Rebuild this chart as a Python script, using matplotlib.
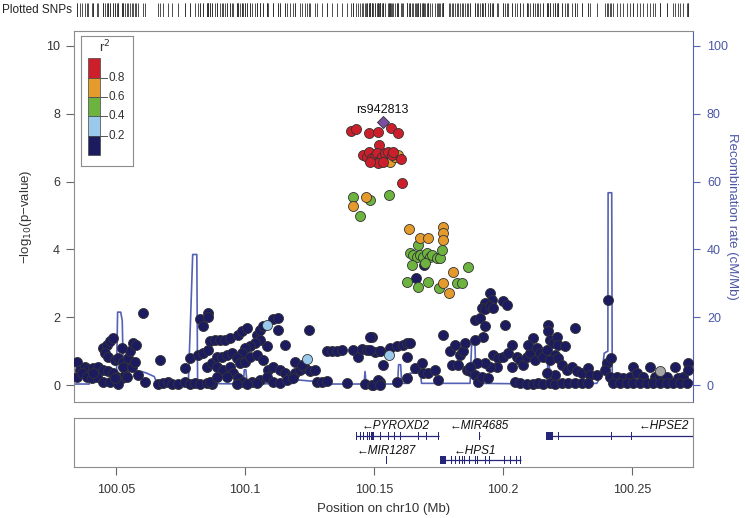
import matplotlib
matplotlib.use('Agg')
import matplotlib.pyplot as plt
from matplotlib.patches import Rectangle

plt.rcParams['font.family'] = ['Liberation Sans', 'DejaVu Sans']

# SNPs per LD bin: (position in Mb, -log10 p)
navy_snps = [
    (100.0347, 0.69), (100.0360, 0.45), (100.0380, 0.54), (100.0393, 0.46), (100.0412, 0.49), (100.0431, 0.52),
    (100.0451, 0.45), (100.0470, 0.40), (100.0489, 0.35), (100.0502, 0.25), (100.0522, 0.20), (100.0535, 0.30),
    (100.0347, 0.25), (100.0367, 0.35), (100.0386, 0.25), (100.0406, 0.20), (100.0425, 0.25), (100.0451, 1.09),
    (100.0464, 1.19), (100.0477, 1.29), (100.0487, 1.38), (100.0457, 0.94), (100.0470, 0.84), (100.0496, 0.74),
    (100.0509, 0.79), (100.0528, 0.69), (100.0548, 0.79), (100.0554, 0.99), (100.0567, 1.24), (100.0577, 1.19),
    (100.0522, 1.09), (100.0528, 0.54), (100.0561, 0.54), (100.0573, 0.69), (100.0586, 0.30), (100.0612, 0.10),
    (100.0606, 2.11), (100.0451, 0.10), (100.0477, 0.10), (100.0509, 0.03), (100.0541, 0.25), (100.0496, 0.20),
    (100.0412, 0.35), (100.0670, 0.74), (100.0664, 0.03), (100.0683, 0.05), (100.0703, 0.10), (100.0716, 0.03),
    (100.0741, 0.03), (100.0767, 0.10), (100.0787, 0.03), (100.0806, 0.07), (100.0825, 0.03), (100.0851, 0.07),
    (100.0871, 0.03), (100.0767, 0.49), (100.0787, 0.79), (100.0819, 0.89), (100.0838, 0.94), (100.0858, 1.04),
    (100.0825, 1.95), (100.0836, 1.75), (100.0858, 2.13), (100.0858, 2.01), (100.0864, 1.29), (100.0884, 1.34),
    (100.0903, 1.34), (100.0922, 1.34), (100.0942, 1.38), (100.0974, 1.48), (100.0987, 1.58), (100.1006, 1.68),
    (100.1045, 1.48), (100.1058, 1.63), (100.1071, 1.73), (100.1110, 1.95), (100.1129, 1.98), (100.1129, 1.63),
    (100.1155, 1.19), (100.1084, 1.14), (100.1058, 1.34), (100.1039, 1.24), (100.1019, 1.14), (100.1000, 1.09),
    (100.0987, 0.94), (100.0851, 0.54), (100.0871, 0.64), (100.0890, 0.84), (100.0909, 0.84), (100.0929, 0.89),
    (100.0948, 0.94), (100.0968, 0.79), (100.0980, 0.64), (100.1000, 0.69), (100.1019, 0.84), (100.1045, 0.89),
    (100.1071, 0.74), (100.1090, 0.45), (100.1110, 0.54), (100.1135, 0.45), (100.1155, 0.35), (100.1174, 0.25),
    (100.1193, 0.35), (100.1213, 0.45), (100.1232, 0.49), (100.1252, 0.40), (100.1271, 0.45), (100.0890, 0.54),
    (100.0916, 0.45), (100.0942, 0.54), (100.0955, 0.35), (100.0974, 0.20), (100.0993, 0.10), (100.1026, 0.10),
    (100.1058, 0.15), (100.1084, 0.25), (100.1110, 0.10), (100.1135, 0.05), (100.1161, 0.15), (100.1187, 0.20),
    (100.0864, 0.10), (100.0890, 0.25), (100.0929, 0.25), (100.0968, 0.03), (100.1006, 0.03), (100.1045, 0.05),
    (100.1249, 1.63), (100.1278, 0.10), (100.1297, 0.10), (100.1316, 0.13), (100.1394, 0.05), (100.1465, 0.03),
    (100.1491, 0.00), (100.1523, 0.10), (100.1316, 0.99), (100.1336, 0.99), (100.1355, 0.99), (100.1374, 1.02),
    (100.1420, 1.02), (100.1439, 0.84), (100.1452, 1.06), (100.1471, 1.04), (100.1491, 1.43), (100.1504, 0.96),
    (100.1523, 0.99), (100.1193, 0.69), (100.1219, 0.59),
    (100.1484, 1.43), (100.1497, 0.00), (100.1516, 0.15), (100.1523, 0.00), (100.1536, 0.59), (100.1562, 1.09),
    (100.1587, 1.14), (100.1613, 1.19), (100.1626, 1.24), (100.1639, 1.24), (100.1484, 1.02), (100.1523, 0.99),
    (100.1626, 0.84), (100.1587, 0.10), (100.1626, 0.20), (100.1658, 0.49), (100.1684, 0.64), (100.1691, 0.35),
    (100.1710, 0.35), (100.1736, 0.45), (100.1749, 0.15), (100.1768, 1.48), (100.1801, 0.59), (100.1794, 0.99),
    (100.1813, 1.19), (100.1833, 0.89), (100.1846, 0.99), (100.1852, 1.24), (100.1826, 0.59), (100.1859, 0.45),
    (100.1872, 0.40), (100.1891, 0.30), (100.1904, 0.10), (100.1917, 0.25), (100.1943, 0.20), (100.1949, 2.72),
    (100.1956, 2.52), (100.1930, 2.42), (100.1917, 2.27), (100.1930, 2.23), (100.1949, 2.32), (100.1962, 2.27),
    (100.2001, 2.47), (100.2014, 2.37), (100.1891, 1.93), (100.1910, 1.98), (100.1930, 1.73), (100.2007, 1.78),
    (100.1923, 1.43), (100.1891, 1.34), (100.1962, 0.89), (100.1981, 0.79), (100.2001, 0.84), (100.2020, 0.94),
    (100.2033, 1.19), (100.1975, 0.54), (100.1949, 0.54), (100.1930, 0.64), (100.1897, 0.64), (100.1872, 0.54),
    (100.2033, 0.54), (100.2052, 0.84), (100.2065, 0.74), (100.2078, 0.59), (100.2091, 0.84), (100.2104, 0.94),
    (100.2117, 1.38), (100.2098, 1.19), (100.2130, 1.09), (100.2124, 0.74), (100.2143, 0.94), (100.2156, 0.84),
    (100.2175, 1.78), (100.2175, 1.58), (100.2182, 1.34), (100.2195, 1.24), (100.2208, 1.43), (100.2214, 1.19),
    (100.2240, 1.14), (100.2279, 1.68), (100.2169, 1.04), (100.2201, 0.89), (100.2182, 0.74), (100.2214, 0.79),
    (100.2227, 0.59), (100.2246, 0.45), (100.2266, 0.54), (100.2285, 0.40), (100.2304, 0.35), (100.2330, 0.49),
    (100.2337, 0.30), (100.2363, 0.30), (100.2046, 0.10), (100.2065, 0.05), (100.2091, 0.03), (100.2117, 0.03),
    (100.2136, 0.05), (100.2156, 0.03), (100.2182, 0.05), (100.2201, 0.03), (100.2227, 0.05), (100.2253, 0.05),
    (100.2279, 0.05), (100.2304, 0.05), (100.2330, 0.05), (100.2201, 0.30), (100.2169, 0.35), (100.2408, 2.50),
    (100.2404, 0.64), (100.2417, 0.79), (100.2395, 0.45), (100.2414, 0.25), (100.2440, 0.25), (100.2466, 0.20),
    (100.2492, 0.25), (100.2505, 0.54), (100.2518, 0.35), (100.2543, 0.25), (100.2569, 0.54), (100.2589, 0.25),
    (100.2608, 0.25), (100.2634, 0.25), (100.2666, 0.54), (100.2679, 0.20), (100.2699, 0.25), (100.2718, 0.64),
    (100.2718, 0.45), (100.2427, 0.05), (100.2453, 0.05), (100.2479, 0.05), (100.2505, 0.05), (100.2531, 0.05),
    (100.2556, 0.05), (100.2582, 0.05), (100.2608, 0.05), (100.2634, 0.05), (100.2660, 0.05), (100.2686, 0.05),
    (100.2711, 0.05), (100.1693, 3.54), (100.1662, 3.15),
]
gray_snps = [(100.2608, 0.40)]
lightblue_snps = [(100.1084, 1.76), (100.1239, 0.77), (100.1558, 0.89)]
green_snps = [
    (100.1419, 5.54), (100.1484, 5.46), (100.1558, 5.60), (100.1445, 4.99), (100.1671, 4.13), (100.1639, 3.88),
    (100.1652, 3.83), (100.1665, 3.79), (100.1678, 3.83), (100.1691, 3.79), (100.1704, 3.88), (100.1717, 3.79),
    (100.1723, 3.83), (100.1742, 3.74), (100.1755, 3.74), (100.1762, 3.98), (100.1646, 3.54), (100.1697, 3.59),
    (100.1629, 3.05), (100.1671, 2.90), (100.1708, 3.03), (100.1753, 2.87), (100.1820, 3.02), (100.1839, 3.00),
    (100.1865, 3.47),
]
orange_snps = [
    (100.1562, 6.59), (100.1581, 6.73), (100.1594, 6.78), (100.1469, 5.54), (100.1419, 5.28), (100.1635, 4.59),
    (100.1768, 4.67), (100.1766, 4.49), (100.1768, 4.28), (100.1678, 4.33), (100.1710, 4.33), (100.1807, 3.34),
    (100.1768, 3.02), (100.1792, 2.72),
]
red_snps = [
    (100.1409, 7.49), (100.1430, 7.56), (100.1481, 7.42), (100.1516, 7.47), (100.1567, 7.57), (100.1591, 7.44),
    (100.1520, 7.08), (100.1458, 6.78), (100.1471, 6.73), (100.1481, 6.88), (100.1490, 6.69), (100.1503, 6.73),
    (100.1510, 6.83), (100.1523, 6.64), (100.1529, 6.73), (100.1542, 6.83), (100.1555, 6.88), (100.1568, 6.78),
    (100.1574, 6.88), (100.1604, 6.66), (100.1516, 6.54), (100.1484, 6.59), (100.1536, 6.59), (100.1607, 5.95),
]
lead_snp = (100.1533, 7.75)
lead_name = 'rs942813'

# recombination rate (cM/Mb)
recomb_pos = [100.0337, 100.0396, 100.0402, 100.0502, 100.0506, 100.0518, 100.0524, 100.0528, 100.0599,
              100.0619, 100.0648, 100.0660, 100.0780, 100.0789, 100.0797, 100.0813, 100.0816, 100.0993,
              100.0997, 100.1003, 100.1008, 100.1187, 100.1206, 100.1278, 100.1291, 100.1461, 100.1465,
              100.1469, 100.1484, 100.1591, 100.1595, 100.1603, 100.1607, 100.1635, 100.1639, 100.1680,
              100.1684, 100.1755, 100.1872, 100.1878, 100.1891, 100.1895, 100.2169, 100.2173, 100.2179,
              100.2183, 100.2363, 100.2382, 100.2392, 100.2406, 100.2407, 100.2421, 100.2423, 100.2736]
recomb_rate = [0.3, 0.3, 4.0, 4.0, 21.5, 21.5, 19.0, 4.2, 4.0,
               3.5, 2.5, 0.3, 0.5, 20.0, 38.5, 38.5, 0.5, 0.3,
               4.5, 4.5, 0.3, 0.5, 1.5, 1.0, 0.3, 0.3, 4.0,
               0.3, 0.3, 0.3, 6.0, 6.0, 0.5, 0.5, 3.5, 3.5,
               0.5, 0.5, 0.5, 11.9, 11.9, 0.5, 0.3, 5.9, 5.9,
               0.3, 0.5, 3.0, 9.4, 10.0, 56.7, 56.7, 1.5, 1.0]

# genes: name, start, end, row, label position, exons
gene_names = ['PYROXD2', 'MIR4685', 'HPSE2', 'MIR1287', 'HPS1']
gene_start = [100.1429, 100.1908, 100.2168, 100.1549, 100.1757]
gene_end = [100.1751, 100.1910, 100.3000, 100.1551, 100.2068]
gene_row = [0, 0, 0, 1, 1]
gene_label_pos = [100.1585, 100.1909, 100.2622, 100.1547, 100.1889]
gene_exons = [
    [(100.1429, 100.1433), (100.1444, 100.1448), (100.1458, 100.1462), (100.1471, 100.1476), (100.1480, 100.1484),
     (100.1489, 100.1499), (100.1522, 100.1526), (100.1554, 100.1558), (100.1576, 100.1580), (100.1599, 100.1603),
     (100.1671, 100.1675), (100.1703, 100.1707), (100.1748, 100.1752)],
    [(100.1907, 100.1911)],
    [(100.2168, 100.2194), (100.2214, 100.2218), (100.2418, 100.2422), (100.2495, 100.2499)],
    [(100.1548, 100.1552)],
    [(100.1757, 100.1777), (100.1798, 100.1802), (100.1813, 100.1817), (100.1828, 100.1832), (100.1839, 100.1843),
     (100.1849, 100.1853), (100.1867, 100.1871), (100.1890, 100.1894), (100.1897, 100.1901), (100.1928, 100.1932),
     (100.1944, 100.1948), (100.2005, 100.2009), (100.2028, 100.2032), (100.2051, 100.2055), (100.2065, 100.2069)],
]

x_lim = (100.0337, 100.2736)
x_ticks = [100.05, 100.1, 100.15, 100.2, 100.25]
x_tick_labels = ['100.05', '100.1', '100.15', '100.2', '100.25']
ld_breaks = [0.2, 0.4, 0.6, 0.8]
ld_colors = ['#1d1b5f', '#9bc9ec', '#6cb33f', '#e49b2c', '#cd1f2b']
lead_color = '#7b4ea2'
recomb_color = '#5461b5'
W, H = 745, 518


def px_box(left, top, right, bottom):
    # pixel box -> figure fraction rect
    return [left / W, 1 - bottom / H, (right - left) / W, (bottom - top) / H]


def draw_snps(ax, snps, color, marker='o', size=52, z=3):
    xs = [p[0] for p in snps]
    ys = [p[1] for p in snps]
    ax.scatter(xs, ys, s=size, c=color, marker=marker, edgecolors='#333333', linewidths=0.6, zorder=z)


fig = plt.figure(figsize=(W / 100, H / 100), dpi=100)

ax = fig.add_axes(px_box(74, 31, 693, 402))
ax2 = ax.twinx()
ax2.set_zorder(ax.get_zorder() - 1)
ax.patch.set_visible(False)

# recombination line underneath the points
ax2.plot(recomb_pos, recomb_rate, color=recomb_color, lw=1.2)
ax2.set_ylim(-5.0, 104.4)
ax2.set_yticks([0, 20, 40, 60, 80, 100])
ax2.tick_params(axis='y', colors=recomb_color, labelcolor='#4b57a6', labelsize=9, length=5, pad=5)
ax2.set_ylabel('Recombination rate (cM/Mb)', rotation=270, color='#4b57a6', fontsize=9.5, labelpad=7)
for side in ['left', 'top', 'bottom']:
    ax2.spines[side].set_visible(False)
ax2.spines['right'].set_color(recomb_color)

draw_snps(ax, navy_snps, ld_colors[0])
draw_snps(ax, gray_snps, '#a6a6a6')
draw_snps(ax, lightblue_snps, ld_colors[1])
draw_snps(ax, green_snps, ld_colors[2])
draw_snps(ax, orange_snps, ld_colors[3])
draw_snps(ax, red_snps, ld_colors[4])
draw_snps(ax, [lead_snp], lead_color, marker='D', size=38, z=4)
ax.text(lead_snp[0], lead_snp[1] + 0.37, lead_name, ha='center', va='center', fontsize=9, color='#111111')

ax.set_xlim(*x_lim)
ax.set_ylim(-0.5, 10.44)
ax.set_yticks([0, 2, 4, 6, 8, 10])
ax.tick_params(axis='x', bottom=False, labelbottom=False)
ax.tick_params(axis='y', colors='#666666', labelcolor='#333333', labelsize=9, length=6, pad=4)
ax.set_ylabel('\u2212log$_{10}$(p\u2212value)', fontsize=9.5, color='#333333', labelpad=9)
for side in ['left', 'top', 'bottom']:
    ax.spines[side].set_color('#8c8c8c')
ax.spines['right'].set_visible(False)

# gene panel
ax_genes = fig.add_axes(px_box(74, 418, 693, 467))
ax_genes.set_xlim(*x_lim)
ax_genes.set_ylim(0, 1)
ax_genes.set_yticks([])
ax_genes.set_xticks(x_ticks)
ax_genes.set_xticklabels(x_tick_labels)
ax_genes.tick_params(axis='x', colors='#666666', labelcolor='#333333', labelsize=9, length=6, pad=6)
ax_genes.set_xlabel('Position on chr10 (Mb)', fontsize=9.5, color='#333333', labelpad=5)
for side in ax_genes.spines:
    ax_genes.spines[side].set_color('#8c8c8c')

row_line_y = [0.64, 0.14]
row_label_y = [0.83, 0.32]
gene_color = '#25257a'
for name, start, end, row, lab, exons in zip(gene_names, gene_start, gene_end, gene_row,
                                             gene_label_pos, gene_exons):
    y = row_line_y[row]
    ax_genes.plot([start, end], [y, y], color=gene_color, lw=0.9, solid_capstyle='butt')
    for es, ee in exons:
        ax_genes.add_patch(Rectangle((es, y - 0.08), ee - es, 0.16, color=gene_color, lw=0))
    ax_genes.text(lab, row_label_y[row], '\u2190' + name, ha='center', va='center',
                  fontsize=8.5, style='italic', color='#111111')

# plotted SNPs rug
all_pos = [p[0] for group in [navy_snps, gray_snps, lightblue_snps, green_snps, orange_snps, red_snps]
           for p in group] + [lead_snp[0]]
ax_rug = fig.add_axes(px_box(74, 3, 693, 17))
ax_rug.vlines(all_pos, 0, 1, color='#333333', lw=0.6)
ax_rug.set_xlim(*x_lim)
ax_rug.set_ylim(0, 1)
ax_rug.axis('off')
fig.text(2 / W, 1 - 10 / H, 'Plotted SNPs', ha='left', va='center', fontsize=8.5, color='#222222')

# r2 legend
ax_leg = fig.add_axes(px_box(81, 36, 133, 166))
ax_leg.set_xlim(0, 52)
ax_leg.set_ylim(130, 0)
ax_leg.set_xticks([])
ax_leg.set_yticks([])
for side in ax_leg.spines:
    ax_leg.spines[side].set_color('#8c8c8c')
block_h = 19.35
for i, col in enumerate(reversed(ld_colors)):
    ax_leg.add_patch(Rectangle((6.6, 22.3 + i * block_h), 12.7, block_h, facecolor=col,
                               edgecolor='#444444', lw=0.5))
for i, b in enumerate(reversed(ld_breaks)):
    yb = 22.3 + (i + 1) * block_h
    ax_leg.plot([19.3, 25.5], [yb, yb], color='#555555', lw=0.7)
    ax_leg.text(27.5, yb, str(b), ha='left', va='center', fontsize=8.5, color='#333333')
ax_leg.text(24, 10.5, 'r$^2$', ha='center', va='center', fontsize=9.5, color='#333333')

fig.savefig('out.png', dpi=100)
